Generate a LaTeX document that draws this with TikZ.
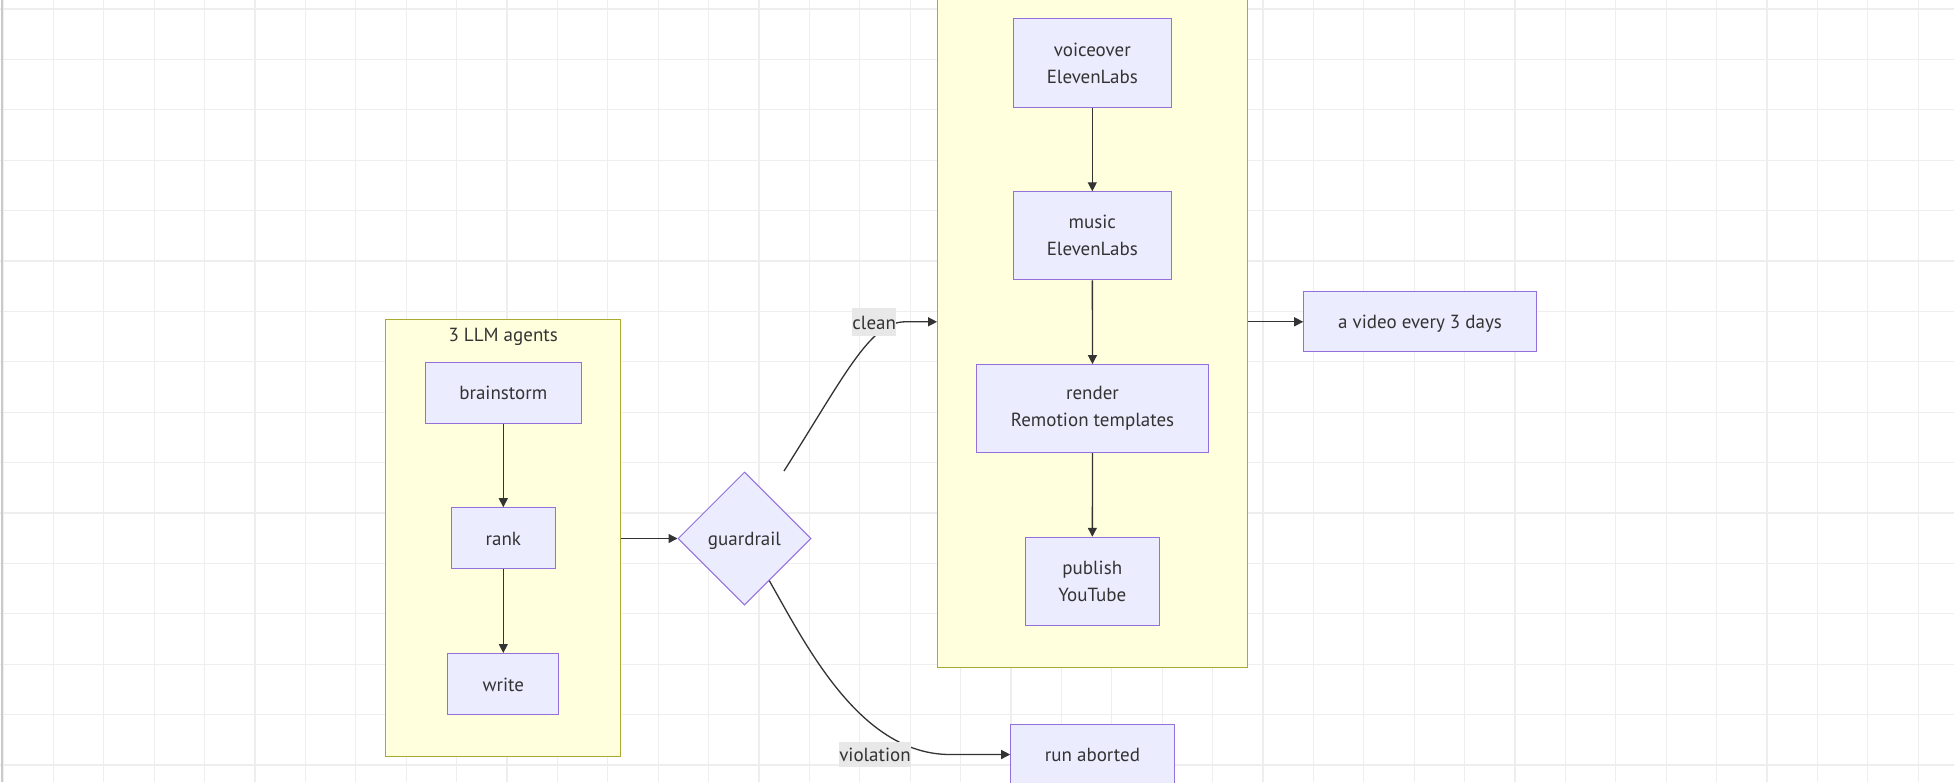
\documentclass[tikz,border=0pt]{standalone}
\usepackage{fontspec}
\setmainfont{PT Sans}
\usetikzlibrary{shapes.geometric,arrows.meta,calc}
\definecolor{nodefill}{HTML}{ECECFF}
\definecolor{nodedraw}{HTML}{9370DB}
\definecolor{sgfill}{HTML}{FFFFDE}
\definecolor{sgdraw}{HTML}{AAAA33}
\definecolor{txt}{HTML}{333333}
\definecolor{gridc}{HTML}{EEEEEE}
\definecolor{lblfill}{HTML}{E8E8E8}
\tikzset{
  box/.style={draw=nodedraw, fill=nodefill, line width=1pt, inner sep=0pt, align=center, text=txt, font=\fontsize{19}{27}\selectfont},
  one/.style={text height=16pt, text depth=2pt},
  sgbox/.style={draw=sgdraw, fill=sgfill, line width=1pt, inner sep=0pt},
  edge/.style={draw=txt, line width=1.3pt, -{Triangle[length=9pt,width=9pt]}},
  lbl/.style={fill=lblfill, inner sep=0pt, text=txt, font=\fontsize{19}{22}\selectfont, text height=16pt, text depth=2pt},
  ttl/.style={text=txt, font=\fontsize{19}{22}\selectfont, inner sep=0pt, text height=16pt, text depth=2pt},
}
\begin{document}
\begin{tikzpicture}[x=1pt,y=-1pt]
\useasboundingbox (0,0) rectangle (1954,782);
\fill[white] (0,0) rectangle (1954,782);
% grid
\foreach \i in {0,...,38} {\draw[gridc, line width=1.2pt] ({3+50.4*\i},0) -- ({3+50.4*\i},782);}
\foreach \j in {0,...,15} {\draw[gridc, line width=1.2pt] (0,{9+50.4*\j}) -- (1954,{9+50.4*\j});}
\draw[gridc!85!black, line width=2pt] (1.5,0) -- (1.5,782);

% subgraphs
\node[sgbox, minimum width=235pt, minimum height=437.4pt] (agents) at (503.2,538) {};
\node[ttl] (agentsttl) at (503.2,334) {3 LLM agents};
\node[sgbox, minimum width=309.5pt, minimum height=691pt] (prod) at (1092.3,321.8) {};

% nodes
\node[box, one, minimum width=156pt, minimum height=61pt] (brain) at (503.3,392.7) {brainstorm};
\node[box, one, minimum width=104pt, minimum height=61pt] (rank) at (503.3,538.2) {rank};
\node[box, one, minimum width=111pt, minimum height=61pt] (write) at (503.3,684) {write};
\node[box, one, shape=diamond, aspect=1, minimum width=133pt, minimum height=133pt] (guard) at (744.5,538.5) {guardrail};
\node[box, minimum width=158pt, minimum height=88.4pt] (voice) at (1092.3,63) {voiceover\\ElevenLabs};
\node[box, minimum width=158pt, minimum height=88pt] (music) at (1092.3,235.8) {music\\ElevenLabs};
\node[box, minimum width=231.6pt, minimum height=88pt] (render) at (1092.5,408.6) {render\\Remotion templates};
\node[box, minimum width=134pt, minimum height=88.3pt] (publish) at (1092.3,581.4) {publish\\YouTube};
\node[box, one, minimum width=232.6pt, minimum height=60.3pt] (video) at (1420,321.8) {a video every 3 days};
\node[box, one, minimum width=163.6pt, minimum height=60.4pt] (abort) at (1092.5,754.5) {run aborted};

% edges
\draw[edge] (brain) -- (rank);
\draw[edge] (rank) -- (write);
\draw[edge] (agents.east |- guard) -- (guard.west);
\draw[edge] (voice) -- (music);
\draw[edge] (music) -- (render);
\draw[edge] (render) -- (publish);
\draw[edge] (prod.east) -- (video.west);
\coordinate (cleanstart) at (784,471);
\coordinate (violstart) at (769.3,580.7);
\draw[edge] (cleanstart) .. controls (845,375) and (870,322) .. (905,321.8) -- (prod.west);
\draw[edge] (violstart) .. controls (806,645) and (860,754.5) .. (950,754.5) -- (abort.west);
\node[lbl, minimum width=43.7pt, minimum height=27.4pt] (cleanlbl) at (874.2,322) {clean};
\node[lbl, minimum width=71.4pt, minimum height=25.6pt] (viollbl) at (875,754.5) {violation};
\end{tikzpicture}
\end{document}
